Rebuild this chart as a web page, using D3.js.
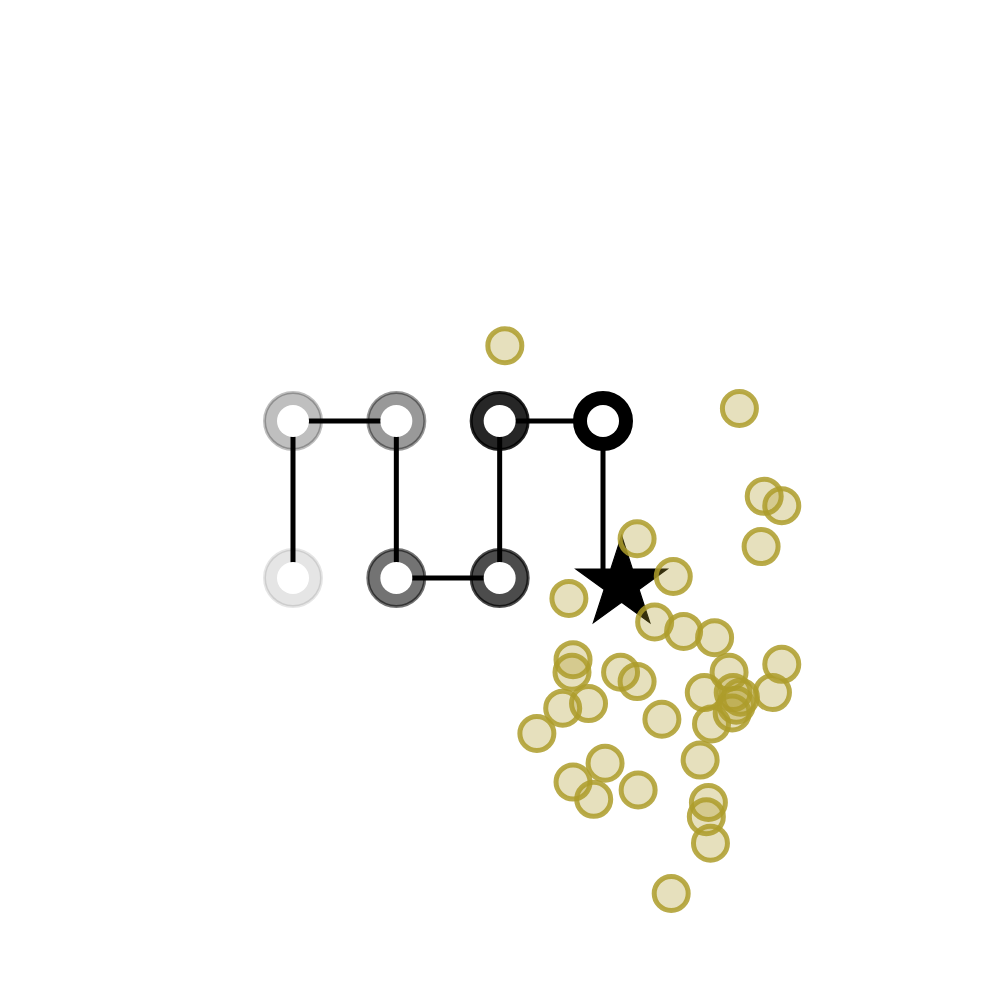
<!DOCTYPE html>
<html>
<head>
<meta charset="utf-8">
<script src="https://cdn.jsdelivr.net/npm/d3@7"></script>
<style>
  html, body { margin: 0; padding: 0; background: #fff; }
  svg { display: block; }
</style>
</head>
<body>
<svg id="chart" width="1000" height="1000"></svg>
<script>
// Path through the grid (column, row) in visiting order
const pathCols = [0, 0, 1, 1, 2, 2, 3, 3];
const pathRows = [0, 1, 1, 0, 0, 1, 1, 0];
// Opacity of each visited node (first 7 nodes get a ring)
const nodeAlpha = [0.1, 0.25, 0.4, 0.55, 0.7, 0.85, 1.0];
// Star (current estimate)
const starX = [3.18];
const starY = [-0.037];
// Scatter samples
const sampleX = [2.05, 4.32, 4.56, 4.73, 4.53, 3.33, 3.68, 2.67, 3.50, 3.78,
                 4.08, 2.71, 2.70, 3.17, 3.33, 4.22, 4.73, 2.86, 2.61, 2.36,
                 3.57, 3.98, 4.64, 4.26, 4.33, 4.29, 4.25, 4.05, 3.94, 3.02,
                 2.71, 2.91, 3.34, 4.02, 4.00, 4.04, 3.66];
const sampleY = [1.48, 1.08, 0.52, 0.46, 0.20, 0.25, 0.01, -0.13, -0.28, -0.34,
                 -0.38, -0.52, -0.60, -0.60, -0.66, -0.60, -0.55, -0.80, -0.83, -0.99,
                 -0.90, -0.73, -0.73, -0.73, -0.76, -0.81, -0.86, -0.93, -1.16, -1.18,
                 -1.30, -1.41, -1.35, -1.43, -1.52, -1.69, -2.01];

const svg = d3.select("#chart");
const x = d3.scaleLinear().domain([0, 3]).range([293, 603]);
const y = d3.scaleLinear().domain([0, 1]).range([578, 421]);

const nodes = pathCols.map((c, i) => ({ c, r: pathRows[i] }));
const ringNodes = nodes.slice(0, nodeAlpha.length).map((d, i) => ({ ...d, a: nodeAlpha[i] }));

// rings
svg.append("g").selectAll("circle").data(ringNodes).join("circle")
  .attr("cx", d => x(d.c)).attr("cy", d => y(d.r)).attr("r", 28.5)
  .attr("fill", "#000").attr("fill-opacity", d => d.a)
  .attr("stroke", "#000").attr("stroke-opacity", d => d.a).attr("stroke-width", 3);

// connecting line
svg.append("path")
  .attr("d", d3.line().x(d => x(d.c)).y(d => y(d.r))(nodes))
  .attr("fill", "none").attr("stroke", "#000").attr("stroke-width", 5);

// white centers
svg.append("g").selectAll("circle").data(ringNodes).join("circle")
  .attr("cx", d => x(d.c)).attr("cy", d => y(d.r)).attr("r", 16)
  .attr("fill", "#fff");

// star
const R = 48;
const starPts = d3.range(10).map(i => {
  const ang = -Math.PI / 2 + i * Math.PI / 5;
  const rr = i % 2 === 0 ? R : R * 0.381966;
  return [rr * Math.cos(ang), rr * Math.sin(ang)];
});
svg.append("path")
  .attr("transform", `translate(${x(starX[0])},${y(starY[0])})`)
  .attr("d", "M" + starPts.map(p => p.join(",")).join("L") + "Z")
  .attr("fill", "#000").attr("stroke", "#000").attr("stroke-width", 1.2)
  .attr("stroke-linejoin", "miter").attr("stroke-miterlimit", 10);

// samples
svg.append("g").selectAll("circle").data(sampleX.map((v, i) => [v, sampleY[i]])).join("circle")
  .attr("cx", d => x(d[0])).attr("cy", d => y(d[1])).attr("r", 17)
  .attr("fill", "#ad9c2a").attr("fill-opacity", 0.31)
  .attr("stroke", "#ad9c2a").attr("stroke-opacity", 0.85).attr("stroke-width", 5);
</script>
</body>
</html>
